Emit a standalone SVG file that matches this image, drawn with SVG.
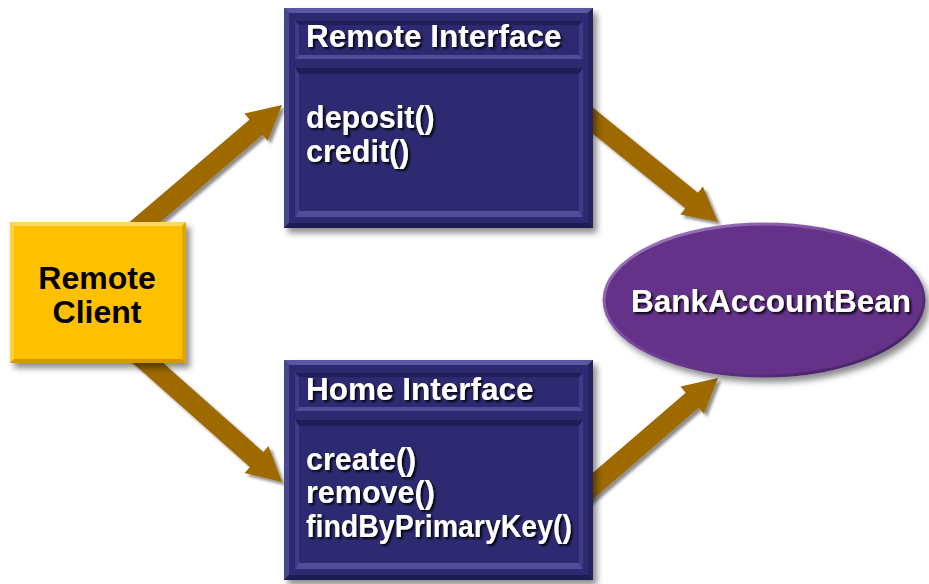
<svg xmlns="http://www.w3.org/2000/svg" xmlns:xlink="http://www.w3.org/1999/xlink" width="929" height="584" viewBox="0 0 929 584">
<style>
.t{font-family:"Liberation Sans",Arial,Helvetica,sans-serif;font-weight:bold;}
.w{fill:#ffffff;}
.title{font-size:31.5px;}
.m{font-size:30.5px;}
.arrow{fill:#9E6A00;}
</style>
<defs>
<filter id="sh" x="-20%" y="-20%" width="150%" height="150%">
<feDropShadow dx="4" dy="5" stdDeviation="3" flood-color="#000" flood-opacity="0.45"/>
</filter>
<filter id="ash" x="-20%" y="-20%" width="150%" height="150%">
<feDropShadow dx="3" dy="3" stdDeviation="1.8" flood-color="#000" flood-opacity="0.45"/>
</filter>
<filter id="ts" x="-10%" y="-30%" width="130%" height="180%">
<feDropShadow dx="2" dy="2" stdDeviation="1" flood-color="#000" flood-opacity="0.9"/>
</filter>
<path id="arr" d="M-200,-10 L-34,-10 L-34,-18 L0,0 L-34,18 L-34,10 L-200,10 Z"/>
<linearGradient id="rim" x1="0" y1="0" x2="1" y2="1">
<stop offset="0" stop-color="#A885C6"/>
<stop offset="0.5" stop-color="#6F3E96"/>
<stop offset="1" stop-color="#3A1A58"/>
</linearGradient>
<g id="navyBox">
<rect x="0" y="0" width="309" height="220" fill="#2E2A72"/>
<polygon points="0,0 309,0 304,5 5,5" fill="#5A56A0"/>
<polygon points="0,0 5,5 5,215 0,220" fill="#4A468E"/>
<polygon points="0,220 5,215 304,215 309,220" fill="#1E1B52"/>
<polygon points="309,0 309,220 304,215 304,5" fill="#26235F"/>
<rect x="11" y="13" width="288" height="38" fill="#2E2A72"/>
<polygon points="11,13 299,13 295,17 15,17" fill="#201D58"/>
<polygon points="11,13 15,17 15,47 11,51" fill="#3F3B84"/>
<polygon points="11,51 15,47 295,47 299,51" fill="#514D96"/>
<polygon points="299,13 299,51 295,47 295,17" fill="#3F3B84"/>
<rect x="11" y="60" width="288" height="149" fill="#2E2A72"/>
<polygon points="11,60 299,60 295,66 15,66" fill="#201D58"/>
<polygon points="11,60 15,66 15,203 11,209" fill="#3F3B84"/>
<polygon points="11,209 15,203 295,203 299,209" fill="#514D96"/>
<polygon points="299,60 299,209 295,203 295,66" fill="#3F3B84"/>
</g>
</defs>
<rect width="929" height="584" fill="#ffffff"/>
<g id="connectors" class="arrow">
<g filter="url(#ash)"><use xlink:href="#arr" href="#arr" transform="translate(282,105) rotate(-40.5)"/></g>
<g filter="url(#ash)"><use xlink:href="#arr" href="#arr" transform="translate(718,222) rotate(39)"/></g>
<g filter="url(#ash)"><use xlink:href="#arr" href="#arr" transform="translate(282,482) rotate(41.6)"/></g>
<g filter="url(#ash)"><use xlink:href="#arr" href="#arr" transform="translate(718,378) rotate(-40.8)"/></g>
</g>
<g id="remote-client">
<g filter="url(#sh)">
<rect x="10" y="222" width="176" height="141" fill="#FFC000"/>
<polygon points="10,222 186,222 182,226 14,226" fill="#FFDA5A"/>
<polygon points="10,222 14,226 14,359 10,363" fill="#FFD040"/>
<polygon points="10,363 14,359 182,359 186,363" fill="#D59800"/>
<polygon points="186,222 186,363 182,359 182,226" fill="#E0A500"/>
</g>
<text class="t" x="97" y="289" font-size="32" text-anchor="middle" fill="#000">Remote</text>
<text class="t" x="97" y="323" font-size="32" text-anchor="middle" fill="#000">Client</text>
</g>
<g id="remote-interface">
<g filter="url(#sh)"><use xlink:href="#navyBox" href="#navyBox" x="284" y="8"/></g>
<g filter="url(#ts)" class="t w">
<text class="title" x="306" y="47">Remote Interface</text>
<text class="m" x="306" y="128">deposit()</text>
<text class="m" x="306" y="162">credit()</text>
</g>
</g>
<g id="home-interface">
<g filter="url(#sh)"><use xlink:href="#navyBox" href="#navyBox" x="284" y="360"/></g>
<g filter="url(#ts)" class="t w">
<text class="title" x="306" y="400">Home Interface</text>
<text class="m" x="306" y="470">create()</text>
<text class="m" x="306" y="503">remove()</text>
<text class="m" x="306" y="537" textLength="266" lengthAdjust="spacingAndGlyphs">findByPrimaryKey()</text>
</g>
</g>
<g id="bank-account-bean">
<g filter="url(#sh)">
<ellipse cx="764" cy="300" rx="160" ry="76" fill="#65338A" stroke="url(#rim)" stroke-width="3"/>
</g>
<g filter="url(#ts)" class="t w">
<text class="title" x="771" y="312" text-anchor="middle">BankAccountBean</text>
</g>
</g>
</svg>
